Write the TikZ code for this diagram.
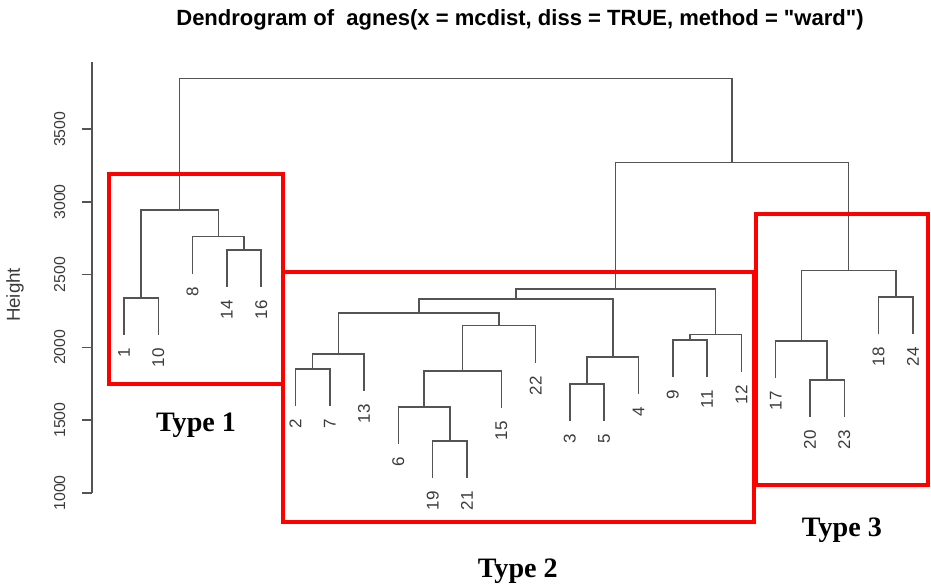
\documentclass[tikz,border=0pt]{standalone}
\usepackage{fontspec}
\setmainfont{Liberation Sans}
\newfontfamily\typefont{Liberation Serif}
\usepackage{tikz}
\usetikzlibrary{calc}

\definecolor{dendro}{gray}{0.33}
\definecolor{boxred}{rgb}{1,0,0}

\tikzset{
    branch/.style={draw=dendro, line width=1.3pt},
    leaflabel/.style={rotate=90, anchor=east, inner sep=0pt, text=dendro!70!black, font=\fontsize{14.5}{14.5}\selectfont},
    ticklabel/.style={rotate=90, anchor=south, inner sep=0pt, text=dendro!70!black, font=\fontsize{13.5}{13.5}\selectfont},
    typebox/.style={draw=boxred, line width=3.4pt},
    typelabel/.style={anchor=base, inner sep=0pt, font=\fontsize{24}{24}\typefont\bfseries}
}

\begin{document}
\begin{tikzpicture}[x=1.029cm, y=0.004365cm]
        \useasboundingbox (-2.615,347) rectangle (24.528,4388.3);
        % title and axis
        \node[anchor=base, inner sep=0pt, font=\fontsize{18.8}{20}\selectfont\bfseries] (title) at (12.545,4210) {Dendrogram of\ \ agnes(x = mcdist, diss = TRUE, method = \textquotedbl ward\textquotedbl)};
        \draw[branch] (0.06,1000) -- (0.06,3964);
        \foreach \h in {1000,1500,...,3500}
            \draw[branch] (0.06,\h) -- (-0.23,\h) node[ticklabel] at (-0.69,\h) {\h};
        \node[rotate=90, inner sep=0pt, text=dendro!70!black, font=\fontsize{16}{16}\selectfont] (ylab) at (-2.178,2361) {Height};
        % leaves: position / label / bottom of the branch
        \foreach \p/\l/\b in {1/1/2087, 2/10/2087, 3/8/2507, 4/14/2417, 5/16/2417,
                              6/2/1599, 7/7/1599, 8/13/1702, 9/6/1337, 10/19/1104,
                              11/21/1104, 12/15/1585, 13/22/1895, 14/3/1496, 15/5/1496,
                              16/4/1681, 17/9/1798, 18/11/1798, 19/12/1833, 20/17/1791,
                              21/20/1523, 22/23/1523, 23/18/2094, 24/24/2094}
        {
            \coordinate (L\l) at (\p,\b);
            \node[leaflabel] (t\l) at (\p,\b-92) {\l};
        }
        % merges
        \coordinate (A) at (1.5,2341);
        \coordinate (B) at (4.5,2671);
        \coordinate (C) at (3.75,2761);
        \coordinate (D) at (2.625,2946);
        \coordinate (E) at (6.5,1853);
        \coordinate (F) at (7.25,1956);
        \coordinate (G) at (10.5,1358);
        \coordinate (H) at (9.75,1591);
        \coordinate (I) at (10.875,1839);
        \coordinate (J) at (11.9375,2149);
        \coordinate (K) at (9.59375,2238);
        \coordinate (M1) at (14.5,1750);
        \coordinate (M) at (15.25,1935);
        \coordinate (N) at (12.421875,2334);
        \coordinate (O) at (17.5,2052);
        \coordinate (P) at (18.25,2087);
        \coordinate (Q) at (15.3359375,2403);
        \coordinate (R) at (21.5,1777);
        \coordinate (S) at (20.75,2045);
        \coordinate (T) at (23.5,2348);
        \coordinate (U) at (22.125,2527);
        \coordinate (V) at (18.73046875,3270);
        \coordinate (W) at (10.677734375,3847);
        \draw[branch] (L1) |- (A) -| (L10);
        \draw[branch] (L14) |- (B) -| (L16);
        \draw[branch] (L8) |- (C) -| (B);
        \draw[branch] (A) |- (D) -| (C);
        \draw[branch] (L2) |- (E) -| (L7);
        \draw[branch] (E) |- (F) -| (L13);
        \draw[branch] (L19) |- (G) -| (L21);
        \draw[branch] (L6) |- (H) -| (G);
        \draw[branch] (H) |- (I) -| (L15);
        \draw[branch] (I) |- (J) -| (L22);
        \draw[branch] (F) |- (K) -| (J);
        \draw[branch] (L3) |- (M1) -| (L5);
        \draw[branch] (M1) |- (M) -| (L4);
        \draw[branch] (K) |- (N) -| (M);
        \draw[branch] (L9) |- (O) -| (L11);
        \draw[branch] (O) |- (P) -| (L12);
        \draw[branch] (N) |- (Q) -| (P);
        \draw[branch] (L20) |- (R) -| (L23);
        \draw[branch] (L17) |- (S) -| (R);
        \draw[branch] (L18) |- (T) -| (L24);
        \draw[branch] (S) |- (U) -| (T);
        \draw[branch] (Q) |- (V) -| (U);
        \draw[branch] (D) |- (W) -| (V);
        % type boxes
        \draw[typebox] (0.563,1749) rectangle (5.636,3192);
        \draw[typebox] (5.636,801) rectangle (19.367,2519);
        \draw[typebox] (19.426,1055) rectangle (24.44,2918);
        \node[typelabel] (type1) at (3.099,1419) {Type 1};
        \node[typelabel] (type2) at (12.48,416) {Type 2};
        \node[typelabel] (type3) at (21.93,698) {Type 3};
\end{tikzpicture}
\end{document}
